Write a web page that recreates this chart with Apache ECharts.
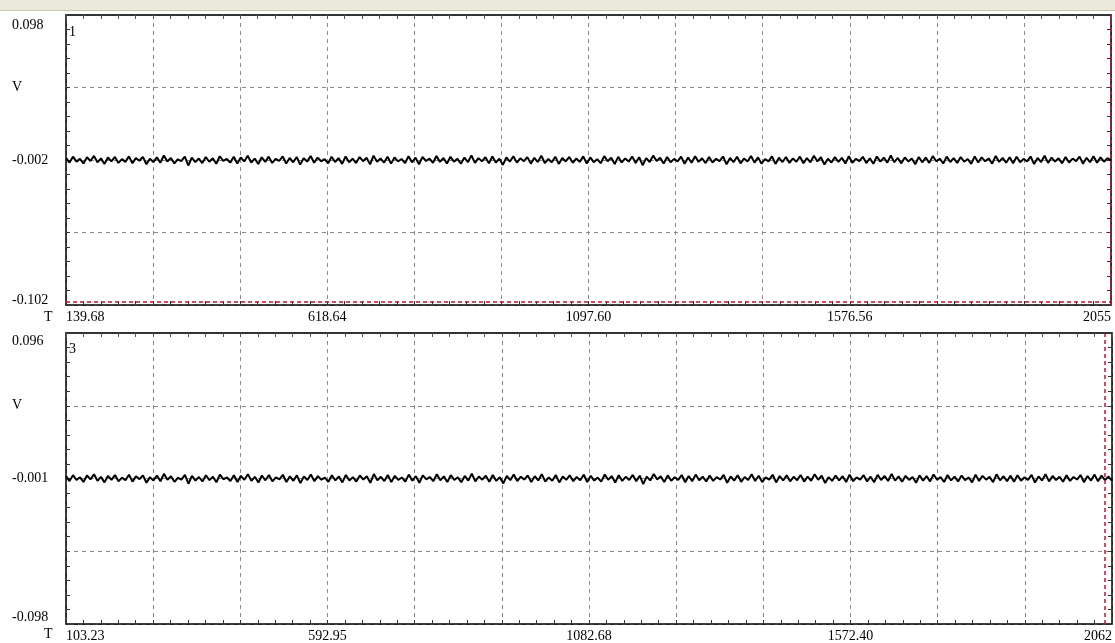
<!DOCTYPE html>
<html>
<head>
<meta charset="utf-8">
<script src="https://cdn.jsdelivr.net/npm/echarts@6/dist/echarts.min.js"></script>
<style>
html,body{margin:0;padding:0;background:#fff;}
#chart{width:1115px;height:643px;}
</style>
</head>
<body>
<div id="chart"></div>
<script>
// ---- data ----
const channelNames = ['1', '3'];
const topTimeTicks = ['139.68', '618.64', '1097.60', '1576.56', '2055'];
const bottomTimeTicks = ['103.23', '592.95', '1082.68', '1572.40', '2062'];
const topVoltTicks = ['-0.102', '', '-0.002', 'V', '0.098'];
const bottomVoltTicks = ['-0.098', '', '-0.001', 'V', '0.096'];
const topRange = [-0.102, 0.098];
const bottomRange = [-0.098, 0.096];

const topValues = [
-0.0005,-0.0038,0.0003,-0.0031,-0.0012,-0.0044,-0.0001,-0.0027,0.0008,-0.0036,
-0.0009,-0.0047,-0.0003,-0.0029,0.0001,-0.0040,-0.0014,-0.0033,0.0005,-0.0042,
-0.0007,-0.0025,0.0002,-0.0049,-0.0011,-0.0034,-0.0002,-0.0039,0.0011,-0.0030,
-0.0006,-0.0043,-0.0015,-0.0028,0.0004,-0.0058,-0.0004,-0.0035,-0.0010,-0.0041,
0.0000,-0.0032,-0.0008,-0.0046,0.0006,-0.0026,-0.0013,-0.0038,0.0002,-0.0045,
-0.0003,-0.0030,0.0009,-0.0037,-0.0010,-0.0048,-0.0001,-0.0033,0.0003,-0.0040,
-0.0012,-0.0027,0.0005,-0.0044,-0.0006,-0.0036,0.0001,-0.0052,-0.0008,-0.0031,
0.0007,-0.0039,-0.0004,-0.0029,-0.0014,-0.0043,0.0002,-0.0034,-0.0007,-0.0047,
0.0004,-0.0035,-0.0011,-0.0041,0.0000,-0.0028,-0.0005,-0.0050,0.0010,-0.0032,
-0.0009,-0.0038,0.0003,-0.0045,-0.0002,-0.0030,-0.0013,-0.0042,0.0006,-0.0036,
-0.0004,-0.0049,0.0001,-0.0027,-0.0010,-0.0039,0.0008,-0.0033,-0.0006,-0.0044,
0.0002,-0.0031,-0.0012,-0.0046,-0.0003,-0.0035,0.0012,-0.0040,-0.0007,-0.0029,
-0.0001,-0.0043,0.0004,-0.0037,-0.0011,-0.0054,-0.0002,-0.0032,0.0006,-0.0038,
-0.0008,-0.0028,0.0000,-0.0045,-0.0005,-0.0034,0.0009,-0.0041,-0.0013,-0.0036,
0.0003,-0.0047,-0.0006,-0.0030,0.0001,-0.0039,-0.0010,-0.0033,0.0005,-0.0044,
-0.0002,-0.0035,-0.0014,-0.0042,0.0007,-0.0029,-0.0004,-0.0048,0.0002,-0.0037,
-0.0009,-0.0031,0.0004,-0.0040,-0.0001,-0.0056,-0.0007,-0.0034,0.0010,-0.0027,
-0.0005,-0.0044,0.0001,-0.0036,-0.0012,-0.0030,0.0003,-0.0046,-0.0003,-0.0039,
0.0006,-0.0033,-0.0008,-0.0041,0.0000,-0.0037,-0.0011,-0.0028,0.0004,-0.0050,
-0.0006,-0.0035,0.0002,-0.0043,-0.0010,-0.0031,0.0008,-0.0038,-0.0002,-0.0045,
-0.0013,-0.0029,0.0005,-0.0047,-0.0004,-0.0034,0.0001,-0.0040,-0.0009,-0.0032,
0.0003,-0.0042,-0.0007,-0.0036,0.0009,-0.0030,-0.0001,-0.0051,-0.0011,-0.0037,
0.0000,-0.0033,-0.0005,-0.0044,0.0006,-0.0039,-0.0012,-0.0028,0.0002,-0.0041,
-0.0008,-0.0046,0.0004,-0.0031,-0.0003,-0.0038,0.0011,-0.0035,-0.0006,-0.0043,
-0.0002,-0.0030,-0.0010,-0.0049,0.0001,-0.0036,-0.0004,-0.0040,0.0007,-0.0029,
-0.0011,-0.0044,0.0003,-0.0034,-0.0007,-0.0041,0.0000,-0.0032,-0.0013,-0.0047,
0.0005,-0.0037,-0.0002,-0.0029,-0.0009,-0.0045,0.0008,-0.0033,-0.0005,-0.0039,
-0.0001,-0.0042,0.0002,-0.0036,-0.0012,-0.0030,0.0004,-0.0048,-0.0006,-0.0034,
0.0009,-0.0040,-0.0003,-0.0031,-0.0008,-0.0043,0.0001,-0.0037,-0.0010,-0.0028,
0.0003,-0.0046,-0.0005,-0.0035,0.0006,-0.0039,-0.0002,-0.0032,-0.0007,-0.0024
];

const bottomValues = [
0.0006,-0.0027,0.0012,-0.0020,-0.0002,-0.0033,0.0010,-0.0016,0.0018,-0.0025,
0.0001,-0.0036,0.0008,-0.0019,0.0013,-0.0029,-0.0004,-0.0022,0.0015,-0.0031,
0.0004,-0.0014,0.0011,-0.0038,-0.0001,-0.0023,0.0009,-0.0028,0.0021,-0.0019,
0.0005,-0.0032,-0.0005,-0.0017,0.0014,-0.0045,0.0007,-0.0024,0.0000,-0.0030,
0.0011,-0.0021,0.0002,-0.0035,0.0016,-0.0015,-0.0003,-0.0027,0.0012,-0.0034,
0.0008,-0.0019,0.0019,-0.0026,0.0001,-0.0037,0.0010,-0.0022,0.0013,-0.0029,
-0.0002,-0.0016,0.0015,-0.0033,0.0004,-0.0025,0.0011,-0.0041,0.0003,-0.0020,
0.0017,-0.0028,0.0006,-0.0018,-0.0004,-0.0032,0.0012,-0.0023,0.0004,-0.0036,
0.0014,-0.0024,-0.0001,-0.0030,0.0010,-0.0017,0.0005,-0.0039,0.0020,-0.0021,
0.0001,-0.0027,0.0013,-0.0034,0.0008,-0.0019,-0.0003,-0.0031,0.0016,-0.0025,
0.0006,-0.0038,0.0011,-0.0016,0.0000,-0.0028,0.0018,-0.0022,0.0004,-0.0033,
0.0012,-0.0020,-0.0002,-0.0035,0.0007,-0.0024,0.0022,-0.0029,0.0003,-0.0018,
0.0009,-0.0032,0.0014,-0.0026,-0.0001,-0.0043,0.0008,-0.0021,0.0016,-0.0027,
0.0002,-0.0017,0.0010,-0.0034,0.0005,-0.0023,0.0019,-0.0030,-0.0003,-0.0025,
0.0013,-0.0036,0.0004,-0.0019,0.0011,-0.0028,0.0000,-0.0022,0.0015,-0.0033,
0.0008,-0.0024,-0.0004,-0.0031,0.0017,-0.0018,0.0006,-0.0037,0.0012,-0.0026,
0.0001,-0.0020,0.0014,-0.0029,0.0009,-0.0047,0.0003,-0.0023,0.0020,-0.0016,
0.0005,-0.0033,0.0011,-0.0025,-0.0002,-0.0019,0.0013,-0.0035,0.0007,-0.0028,
0.0016,-0.0022,0.0002,-0.0030,0.0010,-0.0026,-0.0001,-0.0017,0.0014,-0.0039,
0.0004,-0.0024,0.0012,-0.0032,0.0000,-0.0020,0.0018,-0.0027,0.0008,-0.0034,
-0.0003,-0.0018,0.0015,-0.0036,0.0006,-0.0023,0.0011,-0.0029,0.0001,-0.0021,
0.0013,-0.0031,0.0003,-0.0025,0.0019,-0.0019,0.0009,-0.0040,-0.0001,-0.0026,
0.0010,-0.0022,0.0005,-0.0033,0.0016,-0.0028,-0.0002,-0.0017,0.0012,-0.0030,
0.0002,-0.0035,0.0014,-0.0020,0.0007,-0.0027,0.0021,-0.0024,0.0004,-0.0032,
0.0008,-0.0019,0.0000,-0.0038,0.0011,-0.0025,0.0006,-0.0029,0.0017,-0.0018,
-0.0001,-0.0033,0.0013,-0.0023,0.0003,-0.0030,0.0010,-0.0021,-0.0003,-0.0036,
0.0015,-0.0026,0.0008,-0.0018,0.0001,-0.0034,0.0018,-0.0022,0.0005,-0.0028,
0.0009,-0.0031,0.0012,-0.0025,-0.0002,-0.0019,0.0014,-0.0037,0.0004,-0.0023,
0.0019,-0.0029,0.0007,-0.0020,0.0002,-0.0032,0.0011,-0.0026,0.0000,-0.0017,
0.0013,-0.0035,0.0006,-0.0024,0.0016,-0.0028,0.0009,-0.0021,0.0003,-0.0026
];

// ---- chart ----
const FONT = 'Liberation Serif';
const gridColor = '#8a8a8a';
const cursorColor = '#c8102e';

const chart = echarts.init(document.getElementById('chart'), null, {renderer: 'canvas'});

const panels = [
  {grid: {left: 66, right: 4, top: 15, height: 290}, values: topValues, range: topRange,
   xt: topTimeTicks, yt: topVoltTicks, cursorFromEnd: 0, bottomCursor: true},
  {grid: {left: 66, right: 3, top: 333, height: 291}, values: bottomValues, range: bottomRange,
   xt: bottomTimeTicks, yt: bottomVoltTicks, cursorFromEnd: 2, bottomCursor: false}
];

const grids = [], xAxes = [], yAxes = [], series = [];
panels.forEach((p, g) => {
  grids.push(p.grid);
  const xi = xAxes.length, yi = yAxes.length;
  // data x axis (sample index)
  xAxes.push({type: 'category', gridIndex: g, boundaryGap: false, show: false,
    data: p.values.map((_, i) => i)});
  // frame/grid x axis bottom
  xAxes.push({type: 'value', gridIndex: g, min: 0, max: 12, interval: 1, position: 'bottom',
    axisLine: {show: true, onZero: false, lineStyle: {color: '#000', width: 1.5}},
    axisTick: {show: true, inside: true, length: 4, lineStyle: {color: '#333'}},
    minorTick: {show: true, splitNumber: 5, length: 4, lineStyle: {color: '#333'}},
    splitLine: {show: true, lineStyle: {color: gridColor, type: [4, 4], width: 1}},
    axisLabel: {show: true, margin: 5, color: '#000', fontFamily: FONT, fontSize: 14,
      alignMinLabel: 'left', alignMaxLabel: 'right',
      formatter: v => (Math.round(v) % 3 === 0 ? p.xt[Math.round(v) / 3] : '')}
  });
  // top frame
  xAxes.push({type: 'value', gridIndex: g, min: 0, max: 12, interval: 1, position: 'top',
    axisLine: {show: true, onZero: false, lineStyle: {color: '#333', width: 2}},
    axisTick: {show: true, inside: true, length: 4, lineStyle: {color: '#555'}},
    minorTick: {show: true, splitNumber: 5, length: 4, lineStyle: {color: '#555'}},
    splitLine: {show: false}, axisLabel: {show: false}
  });
  // data y axis
  yAxes.push({type: 'value', gridIndex: g, min: p.range[0], max: p.range[1], show: false,
    splitLine: {show: false}});
  // left frame y axis
  yAxes.push({type: 'value', gridIndex: g, min: 0, max: 4, interval: 1, position: 'left',
    axisLine: {show: true, onZero: false, lineStyle: {color: '#000', width: 1.5}},
    axisTick: {show: true, inside: true, length: 4, lineStyle: {color: '#333'}},
    minorTick: {show: true, splitNumber: 5, length: 4, lineStyle: {color: '#333'}},
    splitLine: {show: true, lineStyle: {color: gridColor, type: [4, 4], width: 1}},
    axisLabel: {show: true, align: 'left', margin: 54, color: '#000', fontFamily: FONT, fontSize: 14,
      formatter: v => {
        const t = p.yt[Math.round(v)];
        if (Math.round(v) === 4) return '{t|' + t + '}';
        if (Math.round(v) === 0) return '{b|' + t + '}';
        return t;
      },
      rich: {
        t: {padding: [g === 0 ? 20 : 16, 0, 0, 0], fontFamily: FONT, fontSize: 14, color: '#000'},
        b: {padding: [0, 0, g === 0 ? 10 : 14, 0], fontFamily: FONT, fontSize: 14, color: '#000'}
      }
    }
  });
  // right frame y axis
  yAxes.push({type: 'value', gridIndex: g, min: 0, max: 4, interval: 1, position: 'right',
    axisLine: {show: true, onZero: false, lineStyle: {color: '#000', width: 1.5}},
    axisTick: {show: true, inside: true, length: 4, lineStyle: {color: '#333'}},
    minorTick: {show: true, splitNumber: 5, length: 4, lineStyle: {color: '#333'}},
    splitLine: {show: false}, axisLabel: {show: false}
  });

  const mlData = [{xAxis: p.values.length - 1 - p.cursorFromEnd}];
  if (p.bottomCursor) mlData.push({yAxis: p.range[0]});
  series.push({
    type: 'line', xAxisIndex: xi, yAxisIndex: yi, data: p.values,
    symbol: 'none', showSymbol: false, animation: false, clip: false,
    lineStyle: {color: '#000', width: 2},
    markLine: {silent: true, symbol: 'none', animation: false, label: {show: false},
      lineStyle: {color: cursorColor, type: [4, 3], width: 1.5}, data: mlData}
  });
});

chart.setOption({
  backgroundColor: '#fff',
  animation: false,
  grid: grids, xAxis: xAxes, yAxis: yAxes, series: series,
  graphic: [
    {type: 'rect', left: 0, top: 0, shape: {width: 1115, height: 10}, style: {fill: '#ebe8dc'}, z: 10},
    {type: 'rect', left: 0, top: 10, shape: {width: 1115, height: 1}, style: {fill: '#c9c5b6'}, z: 10},
    {type: 'text', left: 69, top: 25, style: {text: channelNames[0], font: '14px "Liberation Serif"', fill: '#000'}, z: 10},
    {type: 'text', left: 69, top: 342, style: {text: channelNames[1], font: '14px "Liberation Serif"', fill: '#000'}, z: 10},
    {type: 'text', left: 44, top: 310, style: {text: 'T', font: '14px "Liberation Serif"', fill: '#000'}, z: 10},
    {type: 'text', left: 44, top: 627, style: {text: 'T', font: '14px "Liberation Serif"', fill: '#000'}, z: 10}
  ]
});
</script>
</body>
</html>
